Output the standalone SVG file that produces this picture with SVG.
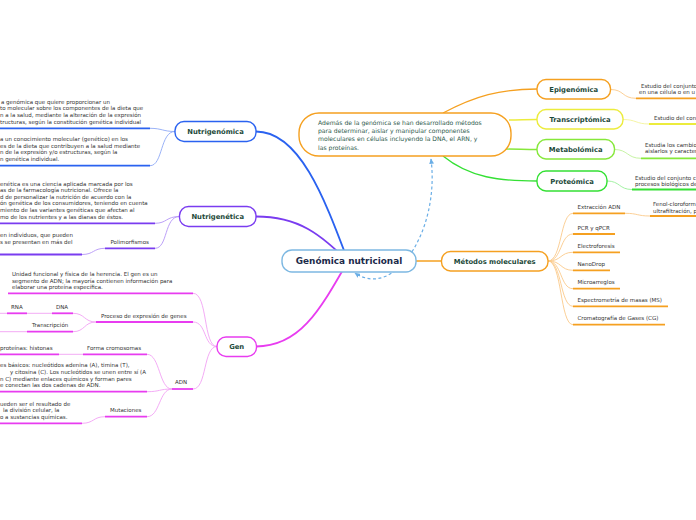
<svg xmlns="http://www.w3.org/2000/svg" width="696" height="520" viewBox="0 0 696 520">
<style>
text{font-family:"DejaVu Sans",Verdana,sans-serif}
.t{font-size:5.5px;fill:#333}
.c{font-size:6.1px;fill:#2d5a4c}
.n{font-size:6.8px;font-weight:bold;fill:#1d4a3a;text-anchor:middle}
.root{font-size:8.9px;font-weight:bold;fill:#1b2a4a;text-anchor:middle}
.box{fill:#fff;stroke-width:1.4}
.ul{fill:none;stroke-width:1.8}
.cn{fill:none;stroke-width:0.9}
.bl{stroke:#2a62f0}.blL{stroke:#8fa9f6}
.pu{stroke:#7a3cf0}.puL{stroke:#b495f6}
.mg{stroke:#e83cf0}.mgL{stroke:#f2a2f4}
.or{stroke:#f5a020}.orL{stroke:#fac98a}
.ye{stroke:#ecec3c}.yeL{stroke:#f4f49a}
.lg{stroke:#86e83a}.lgL{stroke:#bff29a}
.gr{stroke:#34e034}.grL{stroke:#98ef98}
</style>
<defs>
<marker id="arr" viewBox="0 0 10 10" refX="8" refY="5" markerWidth="5" markerHeight="5" orient="auto-start-reverse"><path d="M0,1 L9,5 L0,9 z" fill="#6aaee6"/></marker>
</defs>
<rect width="696" height="520" fill="#fff"/>

<g id="connectors">
<!-- main branches -->
<path d="M348 261 C325 200,300 131.5,256 131.5" fill="none" stroke="#2a62f0" stroke-width="1.8"/>
<path d="M348 261 C320 235,300 216.5,256 216.5" fill="none" stroke="#7a3cf0" stroke-width="1.8"/>
<path d="M348 261 C320 310,300 346.5,256 346.5" fill="none" stroke="#e83cf0" stroke-width="1.8"/>
<path d="M415 261 L441.5 261" fill="none" stroke="#f5a020" stroke-width="1.5"/>
<path d="M431 159 C440 230,395 300,355 273" fill="none" stroke="#6aaee6" stroke-width="1.2" stroke-dasharray="3,2.5" marker-start="url(#arr)" marker-end="url(#arr)"/>
<!-- callout branches -->
<path d="M443 113 C475 96,500 89,537 89" fill="none" stroke="#f5a020" stroke-width="1.3"/>
<path d="M509 120 C520 120,525 119.5,537 119.5" fill="none" stroke="#ecec3c" stroke-width="1.3"/>
<path d="M505 149 C518 149,524 149.5,537 149.5" fill="none" stroke="#86e83a" stroke-width="1.3"/>
<path d="M443 156 C470 178,500 181,537 181" fill="none" stroke="#34e034" stroke-width="1.3"/>
<!-- right descriptions -->
<path class="cn orL" d="M610.5 89.5 C624 89.5,622 98.3,636 98.3"/>
<path class="cn yeL" d="M623 119.5 C636 119.5,636 124,649 124"/>
<path class="cn lgL" d="M614.5 149.5 C628 149.5,627 158.3,641 158.3"/>
<path class="cn grL" d="M607 181 C620 181,619 189.5,632 189.5"/>
<!-- metodos -->
<path class="cn orL" d="M548 261 C562 261,560 213.3,573 213.3"/>
<path class="cn orL" d="M548 261 C562 261,560 234,573 234"/>
<path class="cn orL" d="M548 261 C562 261,560 252.3,573 252.3"/>
<path class="cn orL" d="M548 261 C562 261,560 270.3,573 270.3"/>
<path class="cn orL" d="M548 261 C562 261,560 288.7,573 288.7"/>
<path class="cn orL" d="M548 261 C562 261,560 306.3,573 306.3"/>
<path class="cn orL" d="M548 261 C562 261,560 324.7,573 324.7"/>
<path class="cn orL" d="M625 213.3 C638 213.3,637 216,650 216"/>
<!-- nutrigenomica -->
<path class="cn blL" d="M150 128.3 C162 128.3,163 131.5,175 131.5"/>
<path class="cn blL" d="M150 165.7 C163 165.7,160 131.5,175 131.5"/>
<!-- nutrigenetica -->
<path class="cn puL" d="M155 223.3 C167 223.3,166 216.5,179.5 216.5"/>
<path class="cn puL" d="M155 248.3 C168 248.3,164 216.5,179.5 216.5"/>
<path class="cn puL" d="M82 254.5 C94 254.5,93 248.3,105 248.3"/>
<!-- gen -->
<path class="cn mgL" d="M193 293.3 C208 293.3,203 346.5,217 346.5"/>
<path class="cn mgL" d="M193 322 C207 322,203 346.5,217 346.5"/>
<path class="cn mgL" d="M193 389 C207 389,203 346.5,217 346.5"/>
<path class="cn mgL" d="M73 313.3 C85 313.3,84 322,96 322"/>
<path class="cn mgL" d="M73 331.7 C85 331.7,84 322,96 322"/>
<path class="cn mgL" d="M27 313.3 L52 313.3"/>
<path class="cn mgL" d="M0 313.3 L7 313.3"/>
<path class="cn mgL" d="M0 331.7 L27 331.7"/>
<path class="cn mgL" d="M147 354.3 C160 354.3,159 389,172 389"/>
<path class="cn mgL" d="M147 391.7 C160 391.7,159 389,172 389"/>
<path class="cn mgL" d="M147 416.7 C160 416.7,159 389,172 389"/>
<path class="cn mgL" d="M59 354.3 L83 354.3"/>
<path class="cn mgL" d="M82 423.3 C94 423.3,93 416.7,105 416.7"/>
</g>

<g id="root"><rect class="box" x="282" y="250" width="134" height="22" rx="10" stroke="#7db8e2" stroke-width="1.8"/><text class="root" x="349" y="264.2">Genómica nutricional</text></g>

<g id="callout"><rect class="box" x="299" y="113" width="212" height="43" rx="20" stroke="#f5a020"/>
<text class="c" x="318" y="124.8">Además de la genómica se han desarrollado métodos</text>
<text class="c" x="318" y="133.1">para determinar, aislar y manipular componentes</text>
<text class="c" x="318" y="141.4">moleculares en células incluyendo la DNA, el ARN, y</text>
<text class="c" x="318" y="149.6">las proteínas.</text></g>

<g id="epigenomica"><rect class="box or" x="537" y="79.5" width="73.5" height="19.5" rx="9"/><text class="n" x="573.7" y="91.8">Epigenómica</text></g>
<g id="transcriptomica"><rect class="box ye" x="537" y="109.5" width="86" height="19.5" rx="9"/><text class="n" x="580" y="121.8">Transcriptómica</text></g>
<g id="metabolomica"><rect class="box lg" x="537" y="139.5" width="77.5" height="19.5" rx="9"/><text class="n" x="575.7" y="151.8">Metabolómica</text></g>
<g id="proteomica"><rect class="box gr" x="537" y="171" width="70" height="20" rx="9"/><text class="n" x="572" y="183.5">Proteómica</text></g>

<g id="epi-desc"><text class="t" x="641" y="87.8">Estudio del conjunto</text><text class="t" x="639" y="94.2">en una célula o en u</text><path class="ul or" d="M636 98.3 H696"/></g>
<g id="trans-desc"><text class="t" x="654" y="120.3">Estudio del con</text><path class="ul ye" d="M649 124 H696"/></g>
<g id="metab-desc"><text class="t" x="645" y="147">Estudia los cambio</text><text class="t" x="645" y="153.4">aislarlos y caracter</text><path class="ul lg" d="M641 158.3 H696"/></g>
<g id="prot-desc"><text class="t" x="635" y="180.3">Estudio del conjunto c</text><text class="t" x="635" y="186.3">procesos biológicos de</text><path class="ul gr" d="M632 189.5 H696"/></g>

<g id="metodos"><rect class="box or" x="441.5" y="251.5" width="106.5" height="19.5" rx="9"/><text class="n" x="494.7" y="263.8">Métodos moleculares</text></g>
<g id="extraccion"><text class="t" x="577.5" y="208.7">Extracción ADN</text><path class="ul or" d="M573 213.3 H625"/></g>
<g id="fenol"><text class="t" x="653" y="206">Fenol-cloroform</text><text class="t" x="653" y="212.7">ultrafiltración, p</text><path class="ul or" d="M650 216 H696"/></g>
<g id="pcr"><text class="t" x="577.5" y="229.7">PCR y qPCR</text><path class="ul or" d="M573 234 H615"/></g>
<g id="electro"><text class="t" x="577.5" y="248">Electroforesis</text><path class="ul or" d="M573 252.3 H620"/></g>
<g id="nanodrop"><text class="t" x="577.5" y="266">NanoDrop</text><path class="ul or" d="M573 270.3 H610"/></g>
<g id="micro"><text class="t" x="577.5" y="284">Microarreglos</text><path class="ul or" d="M573 288.7 H620"/></g>
<g id="espectro"><text class="t" x="577.5" y="302">Espectrometría de masas (MS)</text><path class="ul or" d="M573 306.3 H668"/></g>
<g id="cromato"><text class="t" x="577.5" y="320.3">Cromatografía de Gases (CG)</text><path class="ul or" d="M573 324.7 H665"/></g>

<g id="nutrigenomica"><rect class="box bl" x="175" y="121.5" width="81" height="20" rx="9"/><text class="n" x="215.5" y="134.1">Nutrigenómica</text></g>
<g id="ngm-1"><text class="t" x="1" y="103.7">a genómica que quiere proporcionar un</text><text class="t" x="0" y="110.3">to molecular sobre los componentes de la dieta que</text><text class="t" x="0" y="117">n a la salud, mediante la alteración de la expresión</text><text class="t" x="0" y="123.7">tructuras, según la constitución genética individual</text><path class="ul bl" d="M0 128.3 H150"/></g>
<g id="ngm-2"><text class="t" x="0" y="141.2">a un conocimiento molecular (genético) en los</text><text class="t" x="0" y="147.8">es de la dieta que contribuyen a la salud mediante</text><text class="t" x="0" y="154.4">n de la expresión y/o estructuras, según la</text><text class="t" x="0" y="161">n genética individual.</text><path class="ul bl" d="M0 165.7 H150"/></g>

<g id="nutrigenetica"><rect class="box pu" x="179.5" y="206.5" width="76.5" height="20" rx="9"/><text class="n" x="217.7" y="219.1">Nutrigenética</text></g>
<g id="ngt-1"><text class="t" x="0" y="185.6">enética es una ciencia aplicada marcada por los</text><text class="t" x="0" y="192.2">as de la farmacología nutricional. Ofrece la</text><text class="t" x="0" y="198.8">d de personalizar la nutrición de acuerdo con la</text><text class="t" x="0" y="205.4">ón genética de los consumidores, teniendo en cuenta</text><text class="t" x="0" y="212">miento de las variantes genéticas que afectan al</text><text class="t" x="0" y="218.7">mo de los nutrientes y a las dianas de éstos.</text><path class="ul pu" d="M0 223.3 H155"/></g>
<g id="polimorfismos"><text class="t" x="110.5" y="243.7">Polimorfismos</text><path class="ul pu" d="M105 248.3 H155"/></g>
<g id="poli-1"><text class="t" x="0" y="237">en individuos, que pueden</text><text class="t" x="0" y="243.5">s se presentan en más del</text><path class="ul pu" d="M0 254.5 H82"/></g>

<g id="gen"><rect class="box mg" x="217" y="337" width="39.5" height="19.5" rx="9"/><text class="n" x="236.7" y="349.3">Gen</text></g>
<g id="gen-1"><text class="t" x="12" y="276.3">Unidad funcional y física de la herencia. El gen es un</text><text class="t" x="12" y="282.8">segmento de ADN; la mayoría contienen información para</text><text class="t" x="12" y="289.4">elaborar una proteína específica.</text><path class="ul mg" d="M8 293.3 H193"/></g>
<g id="proceso"><text class="t" x="101" y="318">Proceso de expresión de genes</text><path class="ul mg" d="M96 322 H193"/></g>
<g id="dna"><text class="t" x="56" y="308.7">DNA</text><path class="ul mg" d="M52 313.3 H73"/></g>
<g id="rna"><text class="t" x="11" y="308.7">RNA</text><path class="ul mg" d="M7 313.3 H27"/></g>
<g id="transcripcion"><text class="t" x="32" y="327">Transcripción</text><path class="ul mg" d="M27 331.7 H73"/></g>
<g id="adn"><text class="t" x="175" y="384.4">ADN</text><path class="ul mg" d="M172 389 H193"/></g>
<g id="forma"><text class="t" x="87" y="349.8">Forma cromosomas</text><path class="ul mg" d="M83 354.3 H147"/></g>
<g id="histonas"><text class="t" x="0" y="349.8">proteínas: histonas</text><path class="ul mg" d="M0 354.3 H59"/></g>
<g id="adn-1"><text class="t" x="0" y="367.3">es básicos: nucleótidos adenina (A), timina (T),</text><text class="t" x="10" y="373.9">y citosina (C). Los nucleótidos se unen entre sí (A</text><text class="t" x="0" y="380.5">n C) mediante enlaces químicos y forman pares</text><text class="t" x="0" y="387.1">e conectan las dos cadenas de ADN.</text><path class="ul mg" d="M0 391.7 H147"/></g>
<g id="mutaciones"><text class="t" x="110" y="412">Mutaciones</text><path class="ul mg" d="M105 416.7 H147"/></g>
<g id="mut-1"><text class="t" x="0" y="405.5">ueden ser el resultado de</text><text class="t" x="3" y="412.1">la división celular, la</text><text class="t" x="0" y="418.7">o a sustancias químicas.</text><path class="ul mg" d="M0 423.3 H82"/></g>
</svg>
